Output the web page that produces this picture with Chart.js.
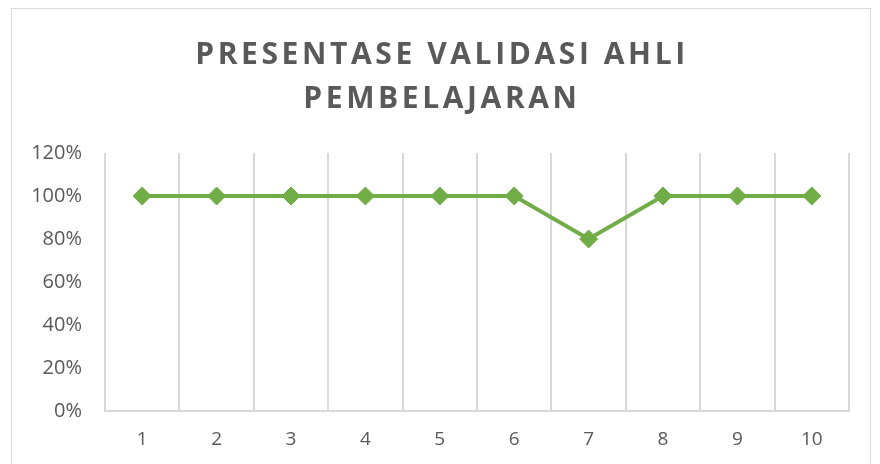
<!DOCTYPE html>
<html>
<head>
<meta charset="utf-8">
<script src="https://cdn.jsdelivr.net/npm/chart.js@4/dist/chart.umd.min.js"></script>
<style>
  html, body { margin: 0; padding: 0; background: #fff; overflow: hidden; }
  #frame {
    position: absolute; left: 11px; top: 8px; width: 860px; height: 470px;
    border: 1.5px solid #d9d9d9; box-sizing: border-box;
  }
  #title {
    position: absolute; left: 11px; top: 31px; width: 862px;
    text-align: center; font-family: "Open Sans", sans-serif; font-weight: bold;
    font-size: 30px; line-height: 44px; letter-spacing: 3.6px; color: #595959;
  }
  #wrap { position: absolute; left: 0; top: 0; width: 880px; height: 464px; }
</style>
</head>
<body>
<div id="frame"></div>
<div id="wrap"><canvas id="chart"></canvas></div>
<div id="title">PRESENTASE VALIDASI AHLI<br>PEMBELAJARAN</div>
<script>
// Expert validation percentages per item (1 = 100%).
const CATEGORIES = ["1", "2", "3", "4", "5", "6", "7", "8", "9", "10"];
const VALUES = [1, 1, 1, 1, 1, 1, 0.8, 1, 1, 1];
const Y_MIN = 0;
const Y_MAX = 1.2;
const Y_STEP = 0.2;

const GREEN = "#70ad47";
const TEXT = "#595959";
const GRID = "#d9d9d9";

new Chart(document.getElementById("chart"), {
  type: "line",
  data: {
    labels: CATEGORIES,
    datasets: [{
      data: VALUES,
      borderColor: GREEN,
      backgroundColor: GREEN,
      borderWidth: 4,
      pointStyle: "rectRot",
      pointRadius: 9,
      pointBorderWidth: 1,
      tension: 0,
    }],
  },
  options: {
    responsive: true,
    maintainAspectRatio: false,
    animation: false,
    layout: { padding: { left: 0, right: 31, top: 153, bottom: 0 } },
    plugins: { legend: { display: false }, title: { display: false }, tooltip: { enabled: false } },
    scales: {
      x: {
        offset: true,
        grid: { offset: true, color: GRID, lineWidth: 2, drawTicks: false },
        border: { display: true, color: GRID, width: 2 },
        ticks: { color: TEXT, padding: 17, font: { family: "Open Sans", size: 19 } },
        afterFit: s => { s.height = 53; },
      },
      y: {
        min: Y_MIN,
        max: Y_MAX,
        grid: { display: false, drawTicks: false },
        border: { display: false },
        ticks: {
          stepSize: Y_STEP,
          color: TEXT,
          padding: 23,
          font: { family: "Open Sans", size: 20 },
          callback: v => Math.round(v * 100) + "%",
        },
        afterFit: s => { s.width = 105; },
      },
    },
  },
});
</script>
</body>
</html>
